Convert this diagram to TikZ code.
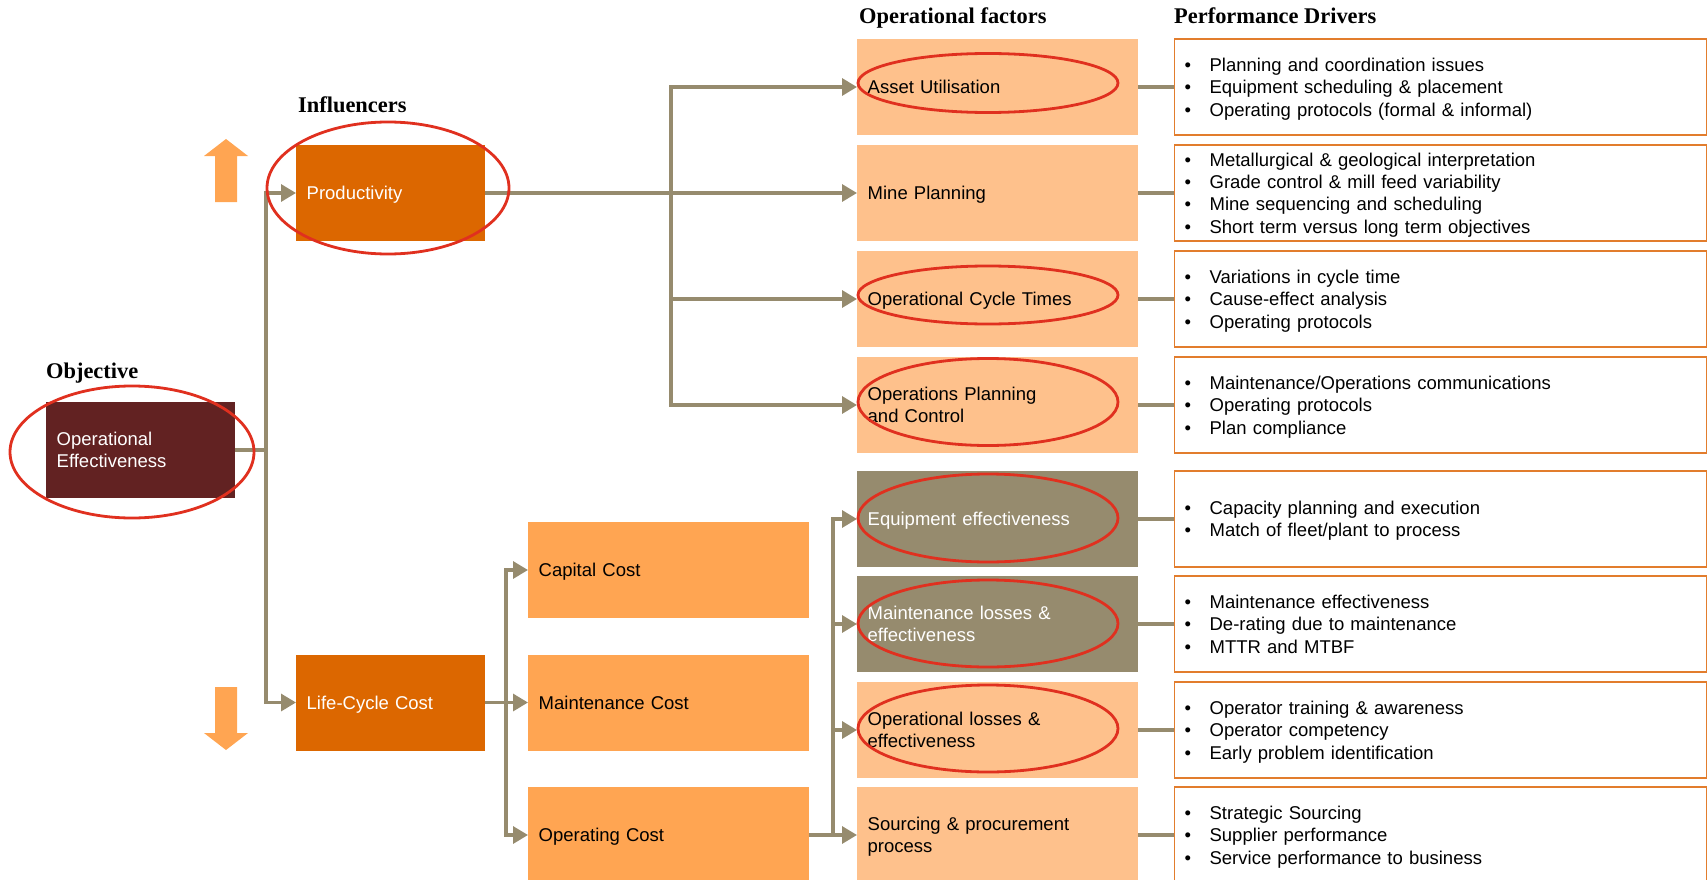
\documentclass[tikz,border=0pt]{standalone}
\usepackage{fontspec}
\setmainfont{Liberation Sans}
\newfontfamily\hdrfont{Liberation Serif}
\usetikzlibrary{arrows.meta}
\definecolor{lineC}{RGB}{150,139,110}
\definecolor{olive}{RGB}{150,139,110}
\definecolor{peach}{RGB}{254,193,140}
\definecolor{costor}{RGB}{255,165,82}
\definecolor{dorange}{RGB}{220,103,0}
\definecolor{maroon}{RGB}{98,34,34}
\definecolor{ring}{RGB}{224,48,31}
\definecolor{pdborder}{RGB}{226,125,45}
\newcommand\bl{\makebox[25pt][l]{\textbullet}}
\begin{document}
\begin{tikzpicture}[x=1pt,y=-1pt,
  basebox/.style={rectangle, inner ysep=0pt, inner xsep=10.5pt, minimum height=96pt, align=left,
    font=\fontsize{18.5}{22.4}\selectfont, anchor=west,
    execute at begin node={\rule{0pt}{18pt}},
    execute at end node={\rule[-4.7pt]{0pt}{4.7pt}}},
  leftbox/.style={basebox, text width=168pt, text=white},
  costbox/.style={basebox, fill=costor, text width=260pt, text=black},
  factbox/.style={basebox, fill=peach, text width=260pt, text=black},
  olivebox/.style={basebox, fill=olive, text width=260pt, text=white},
  pdbox/.style={basebox, draw=pdborder, line width=1.2pt, inner xsep=10pt, text width=512pt, text=black},
  hdr/.style={anchor=base west, inner sep=0pt, font=\hdrfont\bfseries\fontsize{22.4}{26}\selectfont},
  conn/.style={draw=lineC, line width=3.2pt},
  arr/.style={conn, -{Triangle[length=15pt,width=17pt]}},
  ringe/.style={draw=ring, line width=2.8pt},
  bigarrow/.style={fill=costor}
]
\useasboundingbox (0,0) rectangle (1707,880);
\clip (0,0) rectangle (1707,880);

% headers
\node[hdr] (hobj) at (46,378) {Objective};
\node[hdr] (hinf) at (298,113) {Influencers};
\node[hdr] (hfac) at (859,24) {Operational factors};
\node[hdr] (hpd) at (1174,24) {Performance Drivers};

% left column
\node[leftbox, fill=maroon] (oe) at (46,450) {Operational\\Effectiveness};
\node[leftbox, fill=dorange] (prod) at (296,193) {Productivity};
\node[leftbox, fill=dorange] (lcc) at (296,702.5) {Life-Cycle Cost};

% up / down arrows
\fill[bigarrow] (215,202) -- (215,156) -- (204,156) -- (226,139) -- (248,156) -- (237,156) -- (237,202) -- cycle;
\fill[bigarrow] (215,687) -- (237,687) -- (237,733) -- (248,733) -- (226,750) -- (204,733) -- (215,733) -- cycle;

% cost boxes
\node[costbox] (cap) at (528,570) {Capital Cost};
\node[costbox] (mcost) at (528,702.5) {Maintenance Cost};
\node[costbox] (opc) at (528,835) {Operating Cost};

% operational factors
\node[factbox] (asset) at (857,87) {Asset Utilisation};
\node[factbox] (mine) at (857,193) {Mine Planning};
\node[factbox] (cycle) at (857,299) {Operational Cycle Times};
\node[factbox] (opsplan) at (857,405) {Operations Planning\\and Control};
\node[olivebox] (equip) at (857,519) {Equipment effectiveness};
\node[olivebox] (maintl) at (857,624) {Maintenance losses \&\\effectiveness};
\node[factbox] (opl) at (857,730) {Operational losses \&\\effectiveness};
\node[factbox] (source) at (857,835) {Sourcing \& procurement\\process};

% performance drivers
\node[pdbox] (pd1) at (1174,87) {\bl Planning and coordination issues\\\bl Equipment scheduling \& placement\\\bl Operating protocols (formal \& informal)};
\node[pdbox] (pd2) at (1174,193) {\bl Metallurgical \& geological interpretation\\\bl Grade control \& mill feed variability\\\bl Mine sequencing and scheduling\\\bl Short term versus long term objectives};
\node[pdbox] (pd3) at (1174,299) {\bl Variations in cycle time\\\bl Cause-effect analysis\\\bl Operating protocols};
\node[pdbox] (pd4) at (1174,405) {\bl Maintenance/Operations communications\\\bl Operating protocols\\\bl Plan compliance};
\node[pdbox] (pd5) at (1174,519) {\bl Capacity planning and execution\\\bl Match of fleet/plant to process};
\node[pdbox] (pd6) at (1174,624) {\bl Maintenance effectiveness\\\bl De-rating due to maintenance\\\bl MTTR and MTBF};
\node[pdbox] (pd7) at (1174,730) {\bl Operator training \& awareness\\\bl Operator competency\\\bl Early problem identification};
\node[pdbox] (pd8) at (1174,835) {\bl Strategic Sourcing\\\bl Supplier performance\\\bl Service performance to business};

% junctions
\coordinate (j1) at (266,450);
\coordinate (j2) at (671,193);
\coordinate (j3) at (506,702.5);
\coordinate (j4) at (833,835);

% connectors
\draw[conn] (oe.east) -- (j1);
\draw[arr] (j1) |- (prod.west);
\draw[arr] (j1) |- (lcc.west);

\draw[arr] (prod.east) -- (mine.west);
\draw[arr] (j2) |- (asset.west);
\draw[arr] (j2) |- (cycle.west);
\draw[arr] (j2) |- (opsplan.west);

\draw[arr] (lcc.east) -- (mcost.west);
\draw[arr] (j3) |- (cap.west);
\draw[arr] (j3) |- (opc.west);

\draw[arr] (opc.east) -- (source.west);
\draw[arr] (j4) |- (equip.west);
\draw[arr] (j4) |- (maintl.west);
\draw[arr] (j4) |- (opl.west);

\foreach \a/\b in {asset/pd1, mine/pd2, cycle/pd3, opsplan/pd4, equip/pd5, maintl/pd6, opl/pd7, source/pd8}
  \draw[conn] (\a.east) -- (\b.west);

% red highlight rings
\draw[ringe] (132,452) ellipse [x radius=122pt, y radius=66pt];
\draw[ringe] (388,188) ellipse [x radius=121pt, y radius=66pt];
\draw[ringe] (988,83) ellipse [x radius=130pt, y radius=29.5pt];
\draw[ringe] (988,295) ellipse [x radius=130pt, y radius=29pt];
\draw[ringe] (988,402) ellipse [x radius=130pt, y radius=43.5pt];
\draw[ringe] (988,518) ellipse [x radius=130pt, y radius=44pt];
\draw[ringe] (988,623.5) ellipse [x radius=130pt, y radius=43.5pt];
\draw[ringe] (988,728.5) ellipse [x radius=130pt, y radius=43.5pt];
\end{tikzpicture}
\end{document}
